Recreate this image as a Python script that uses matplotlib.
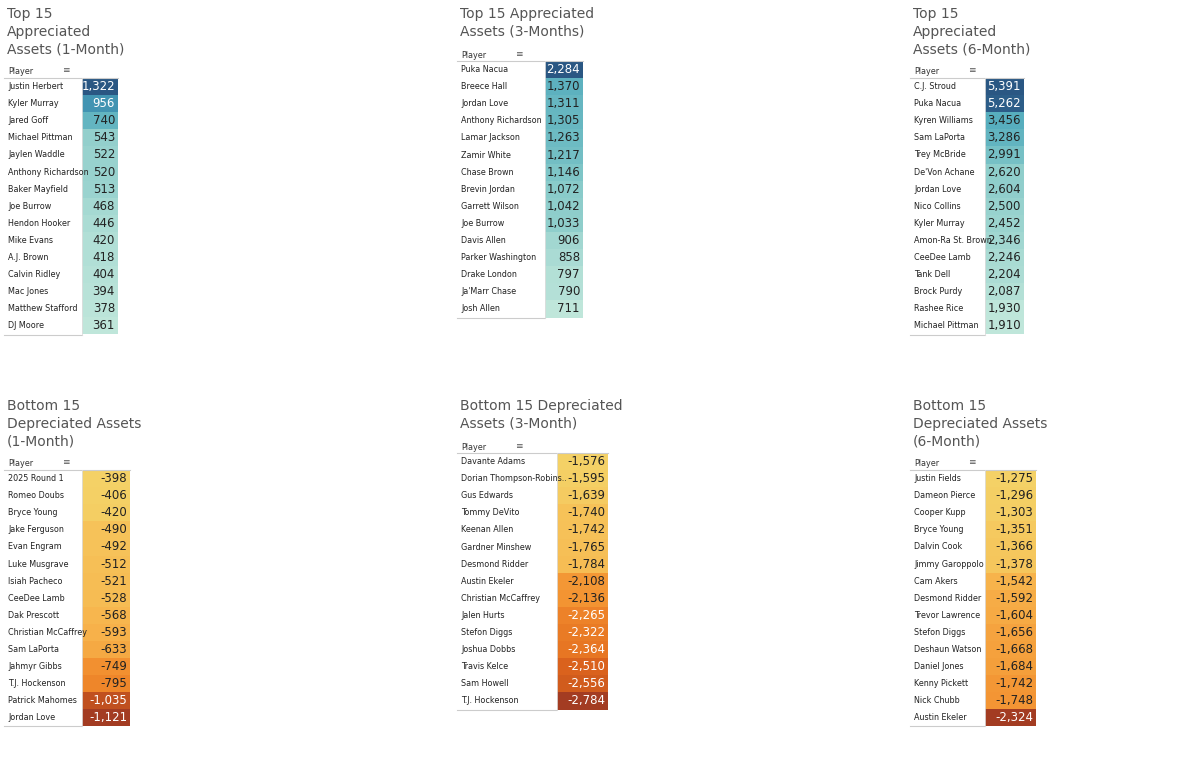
import matplotlib
matplotlib.use("Agg")
import matplotlib.pyplot as plt
from matplotlib.colors import LinearSegmentedColormap, Normalize
import numpy as np

top1_names = ["Justin Herbert","Kyler Murray","Jared Goff","Michael Pittman","Jaylen Waddle","Anthony Richardson","Baker Mayfield","Joe Burrow","Hendon Hooker","Mike Evans","A.J. Brown","Calvin Ridley","Mac Jones","Matthew Stafford","DJ Moore"]
top1_vals = [1322,956,740,543,522,520,513,468,446,420,418,404,394,378,361]
top3_names = ["Puka Nacua","Breece Hall","Jordan Love","Anthony Richardson","Lamar Jackson","Zamir White","Chase Brown","Brevin Jordan","Garrett Wilson","Joe Burrow","Davis Allen","Parker Washington","Drake London","Ja'Marr Chase","Josh Allen"]
top3_vals = [2284,1370,1311,1305,1263,1217,1146,1072,1042,1033,906,858,797,790,711]
top6_names = ["C.J. Stroud","Puka Nacua","Kyren Williams","Sam LaPorta","Trey McBride","De'Von Achane","Jordan Love","Nico Collins","Kyler Murray","Amon-Ra St. Brown","CeeDee Lamb","Tank Dell","Brock Purdy","Rashee Rice","Michael Pittman"]
top6_vals = [5391,5262,3456,3286,2991,2620,2604,2500,2452,2346,2246,2204,2087,1930,1910]
bot1_names = ["2025 Round 1","Romeo Doubs","Bryce Young","Jake Ferguson","Evan Engram","Luke Musgrave","Isiah Pacheco","CeeDee Lamb","Dak Prescott","Christian McCaffrey","Sam LaPorta","Jahmyr Gibbs","T.J. Hockenson","Patrick Mahomes","Jordan Love"]
bot1_vals = [-398,-406,-420,-490,-492,-512,-521,-528,-568,-593,-633,-749,-795,-1035,-1121]
bot3_names = ["Davante Adams","Dorian Thompson-Robins..","Gus Edwards","Tommy DeVito","Keenan Allen","Gardner Minshew","Desmond Ridder","Austin Ekeler","Christian McCaffrey","Jalen Hurts","Stefon Diggs","Joshua Dobbs","Travis Kelce","Sam Howell","T.J. Hockenson"]
bot3_vals = [-1576,-1595,-1639,-1740,-1742,-1765,-1784,-2108,-2136,-2265,-2322,-2364,-2510,-2556,-2784]
bot6_names = ["Justin Fields","Dameon Pierce","Cooper Kupp","Bryce Young","Dalvin Cook","Jimmy Garoppolo","Cam Akers","Desmond Ridder","Trevor Lawrence","Stefon Diggs","Deshaun Watson","Daniel Jones","Kenny Pickett","Nick Chubb","Austin Ekeler"]
bot6_vals = [-1275,-1296,-1303,-1351,-1366,-1378,-1542,-1592,-1604,-1656,-1668,-1684,-1742,-1748,-2324]

titles = ["Top 15\nAppreciated\nAssets (1-Month)", "Top 15 Appreciated\nAssets (3-Months)", "Top 15\nAppreciated\nAssets (6-Month)",
          "Bottom 15\nDepreciated Assets\n(1-Month)", "Bottom 15 Depreciated\nAssets (3-Month)", "Bottom 15\nDepreciated Assets\n(6-Month)"]

blue = LinearSegmentedColormap.from_list("bt", ["#bfe6da", "#84c8c8", "#4aa6bb", "#3a80a8", "#2a5783"])
orng = LinearSegmentedColormap.from_list("og", ["#f4d166", "#f7b44c", "#f28e2e", "#e0661c", "#a33c22"])

W, H = 1200, 765
fig = plt.figure(figsize=(12, 7.65), dpi=100)

# panel layout: (title_x, title_y, table_top, name_w, col_w)
panels = [
    (top1_names, top1_vals, blue, (7, 7, 78, 78, 36)),
    (top3_names, top3_vals, blue, (460, 7, 61, 88, 38)),
    (top6_names, top6_vals, blue, (913, 7, 78, 75, 39)),
    (bot1_names, bot1_vals, orng, (7, 399, 470, 78, 48)),
    (bot3_names, bot3_vals, orng, (460, 399, 453, 100, 51)),
    (bot6_names, bot6_vals, orng, (913, 399, 470, 75, 51)),
]
rowh = 17.1
for i, (names, vals, cmap, (tx, ty, top, nw, cw)) in enumerate(panels):
    fig.text(tx / W, 1 - ty / H, titles[i], ha="left", va="top", fontsize=10, color="#555555", linespacing=1.35)
    fig.text((tx + 1) / W, 1 - (top - 6) / H, "Player", ha="left", va="center", fontsize=5.8, color="#333333")
    fig.text((tx + 55) / W, 1 - (top - 7) / H, "\u2261", ha="left", va="center", fontsize=6.5, color="#555555")
    n = len(vals)
    tw = nw + cw
    ax = fig.add_axes([(tx - 3) / W, 1 - (top + n * rowh) / H, tw / W, n * rowh / H])
    ax.set_xlim(0, tw)
    ax.set_ylim(n, 0)
    ax.axis("off")
    mags = np.abs(np.array(vals, dtype=float))
    norm = Normalize(mags.min(), mags.max())
    thr = 0.5 if vals[0] > 0 else 0.56
    ax.barh(np.arange(n) + 0.5, cw, left=nw, height=1.0, color=[cmap(norm(m)) for m in mags], edgecolor="none")
    for j, (nm, v, m) in enumerate(zip(names, vals, mags)):
        ax.text(4, j + 0.5, nm, ha="left", va="center", fontsize=5.8, color="#222222")
        ax.text(tw - 3, j + 0.5, f"{v:,}", ha="right", va="center", fontsize=8.5,
                color="white" if norm(m) > thr else "#222222")
    ax.plot([0, tw], [0, 0], color="#cccccc", lw=0.8, clip_on=False)
    ax.plot([0, nw], [n, n], color="#cccccc", lw=0.8, clip_on=False)
    ax.plot([nw, nw], [0, n], color="#dddddd", lw=0.6, clip_on=False)

fig.savefig("out.png", dpi=100, facecolor="white")
